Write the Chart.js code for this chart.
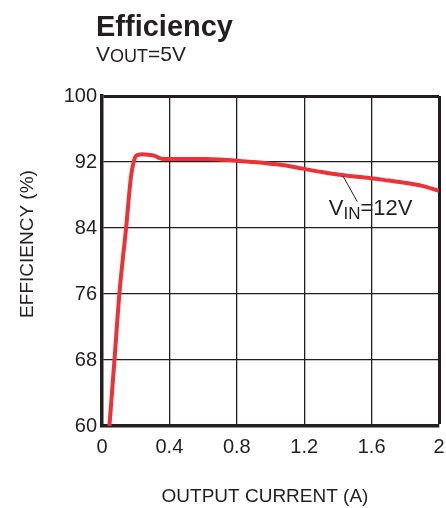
<!DOCTYPE html>
<html>
<head>
<meta charset="utf-8">
<script src="https://cdn.jsdelivr.net/npm/chart.js@4/dist/chart.umd.min.js"></script>
<style>
  html, body { margin: 0; padding: 0; background: #fff; }
  #wrap { width: 446px; height: 508px; }
</style>
</head>
<body>
<div id="wrap"><canvas id="myChart" width="446" height="508"></canvas></div>
<script>
// values
const outputCurrent = [0.044, 0.074, 0.103, 0.143, 0.172, 0.188, 0.202, 0.224, 0.242, 0.264, 0.29, 0.313, 0.34, 0.362, 0.39, 0.5, 0.62, 0.7, 0.8, 0.9, 0.976, 1.1, 1.19, 1.3, 1.41, 1.5, 1.61, 1.7, 1.79, 1.9, 2.0];
const efficiency = [60, 68, 76, 84, 90.2, 92, 92.75, 92.9, 92.95, 92.9, 92.85, 92.75, 92.5, 92.36, 92.36, 92.36, 92.36, 92.3, 92.15, 92.0, 91.85, 91.55, 91.2, 90.8, 90.45, 90.25, 90.0, 89.75, 89.5, 89.1, 88.5];
const xTicks = [0, 0.4, 0.8, 1.2, 1.6, 2];
const yTicks = [60, 68, 76, 84, 92, 100];

const FONT = "'Liberation Sans', Arial, sans-serif";
const INK = "#231f20";

document.addEventListener("DOMContentLoaded", function () {
  const canvas = document.getElementById("myChart");
  const ctx = canvas.getContext("2d");

  // titles, axis names and the VIN label
  const extraText = {
    id: "extraText",
    afterDraw(chart) {
      const c = chart.ctx;
      const x = chart.scales.x, y = chart.scales.y;
      c.save();
      c.fillStyle = INK;
      c.textBaseline = "alphabetic";
      c.textAlign = "left";

      c.font = "bold 29px " + FONT;
      c.fillText("Efficiency", 96, 36);

      // VOUT=5V
      let px = 96;
      c.font = "21px " + FONT;
      c.fillText("V", px, 61);
      px += c.measureText("V").width;
      c.font = "18px " + FONT;
      c.fillText("OUT", px, 62);
      px += c.measureText("OUT").width;
      c.font = "21px " + FONT;
      c.fillText("=5V", px, 61);

      // axis titles
      c.font = "19px " + FONT;
      c.textAlign = "center";
      c.fillText("OUTPUT CURRENT (A)", 265, 502);
      c.save();
      c.translate(33, 244);
      c.rotate(-Math.PI / 2);
      c.fillText("EFFICIENCY (%)", 0, 0);
      c.restore();

      // leader line + VIN=12V
      c.strokeStyle = INK;
      c.lineWidth = 1;
      c.beginPath();
      c.moveTo(x.getPixelForValue(1.43), y.getPixelForValue(90.3));
      c.lineTo(x.getPixelForValue(1.515), y.getPixelForValue(87.2));
      c.stroke();

      c.textAlign = "left";
      px = x.getPixelForValue(1.346);
      const by = y.getPixelForValue(85.6);
      c.font = "22px " + FONT;
      c.fillText("V", px, by);
      px += c.measureText("V").width;
      c.font = "17px " + FONT;
      c.fillText("IN", px, by + 4);
      px += c.measureText("IN").width;
      c.font = "22px " + FONT;
      c.fillText("=12V", px, by);
      c.restore();
    },
  };

  new Chart(ctx, {
    type: "line",
    data: {
      datasets: [{
        data: outputCurrent.map((v, i) => ({ x: v, y: efficiency[i] })),
        borderColor: "#ec3237",
        borderWidth: 4,
        pointRadius: 0,
        cubicInterpolationMode: "monotone",
        fill: false,
      }],
    },
    options: {
      responsive: false,
      animation: false,
      layout: { padding: { left: 0, right: 7, top: 96, bottom: 0 } },
      plugins: {
        legend: { display: false },
        tooltip: { enabled: false },
      },
      scales: {
        x: {
          type: "linear",
          min: 0,
          max: 2,
          afterFit(s) {
            s.height = 82;
            s.paddingLeft = 0;
            s.paddingRight = 0;
          },
          afterBuildTicks(s) { s.ticks = xTicks.map(v => ({ value: v })); },
          ticks: {
            color: INK,
            padding: 9,
            font: { family: FONT, size: 20 },
            callback: (v) => String(v),
          },
          grid: {
            color: INK,
            drawTicks: false,
            lineWidth: (c) => (c.tick && c.tick.value === 2 ? 3 : 1.3),
          },
          border: { color: INK, width: 3.5 },
        },
        y: {
          min: 60,
          max: 100,
          afterFit(s) {
            s.width = 102;
            s.paddingTop = 0;
            s.paddingBottom = 0;
          },
          afterBuildTicks(s) { s.ticks = yTicks.map(v => ({ value: v })); },
          ticks: {
            color: INK,
            padding: 5,
            font: { family: FONT, size: 20 },
          },
          grid: {
            color: INK,
            drawTicks: false,
            lineWidth: (c) => (c.tick && c.tick.value === 100 ? 3 : 1.3),
          },
          border: { color: INK, width: 3.5 },
        },
      },
    },
    plugins: [extraText],
  });
});
</script>
</body>
</html>
